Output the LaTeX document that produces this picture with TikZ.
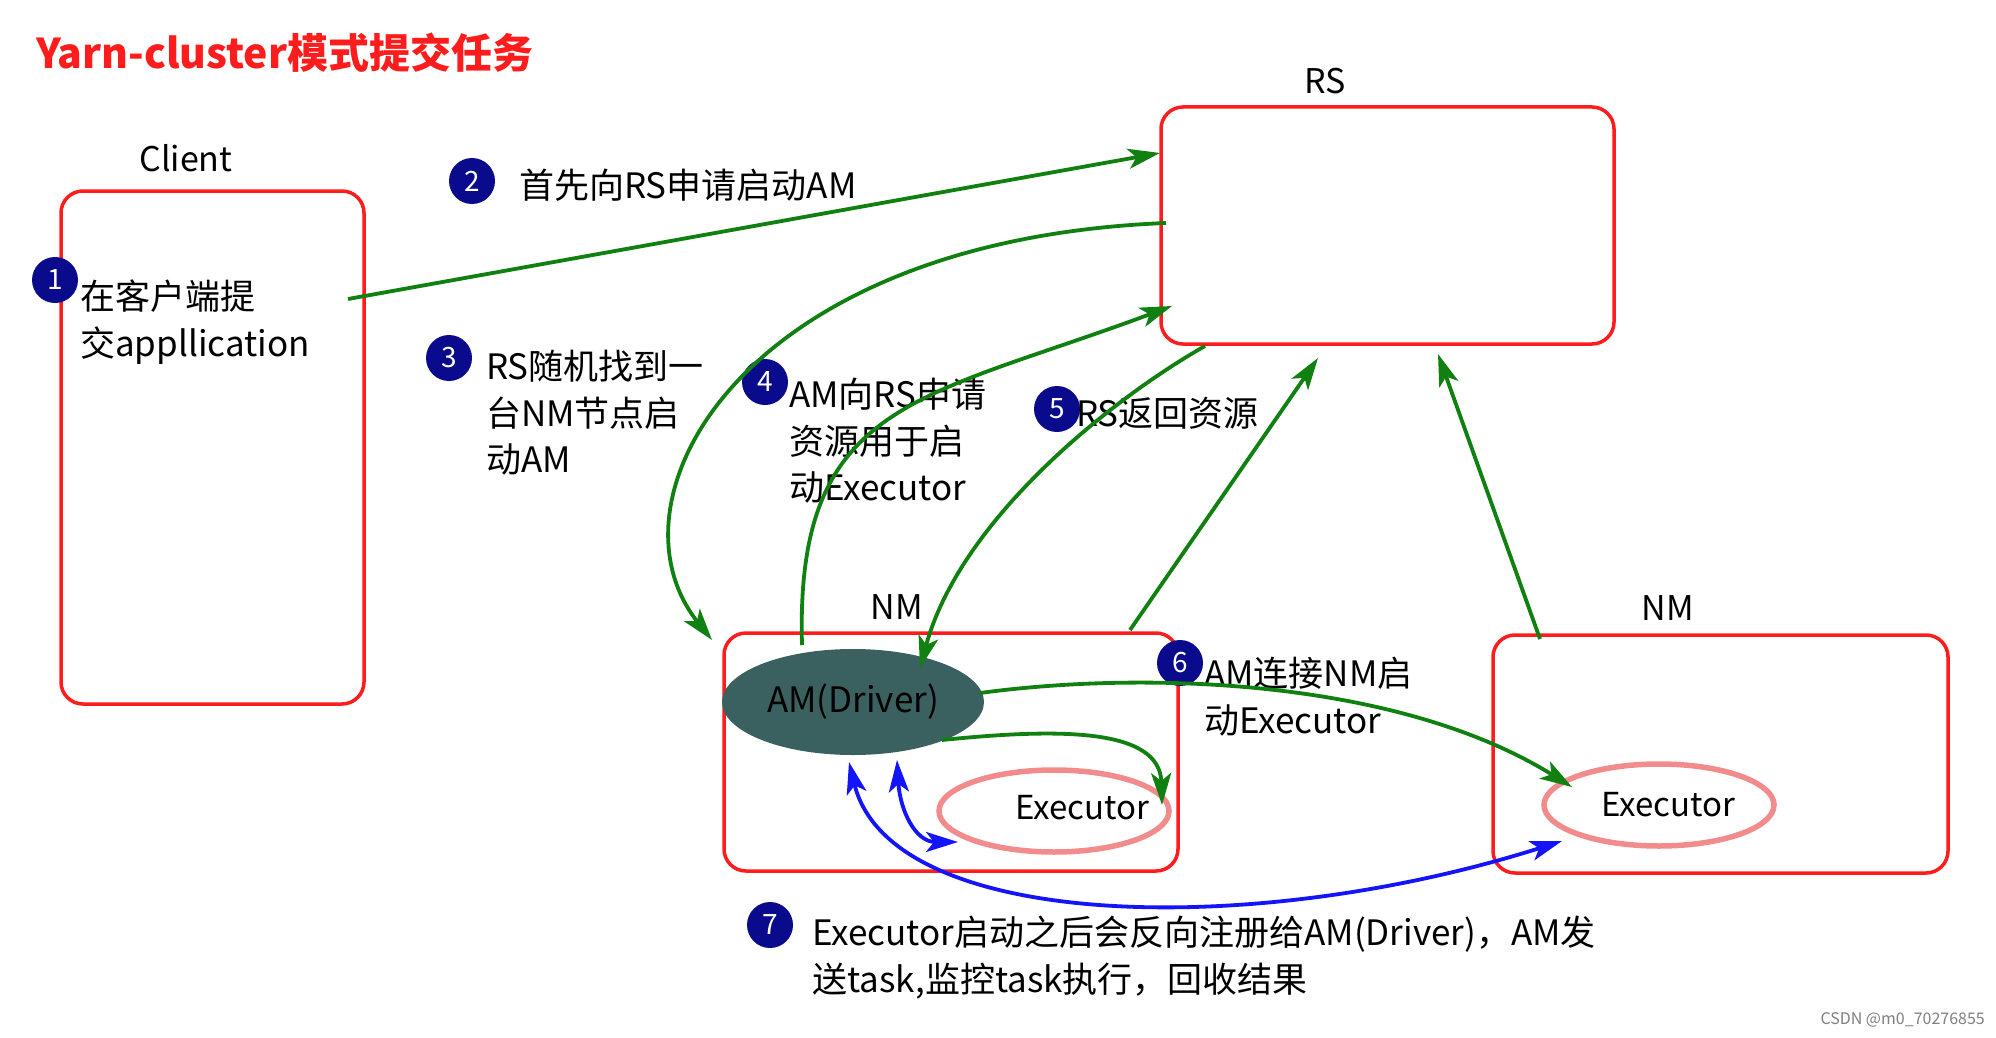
\documentclass[tikz,border=0pt]{standalone}
\usepackage{fontspec}
\setmainfont{Noto Sans CJK SC}
\usetikzlibrary{arrows.meta,shapes.geometric}
\definecolor{boxred}{RGB}{255,28,28}
\definecolor{arrgreen}{RGB}{16,128,16}
\definecolor{arrblue}{RGB}{20,20,250}
\definecolor{execpink}{RGB}{242,140,140}
\definecolor{amteal}{RGB}{58,96,96}
\definecolor{numnavy}{RGB}{10,10,140}
\tikzset{
  sysbox/.style={draw=boxred, line width=3.5pt, rounded corners=22pt, rectangle},
  syslabel/.style={font=\fontsize{34}{40}\selectfont, text=black},
  stepnum/.style={circle, fill=numnavy, text=white, minimum size=46pt, inner sep=0pt, font=\fontsize{28}{30}\selectfont},
  steptext/.style={anchor=west, align=left, font=\fontsize{35}{46.5}\selectfont, inner sep=0pt, text=black},
  garrow/.style={draw=arrgreen, line width=3.8pt, -{Stealth[length=32pt,width=20pt,inset=8pt]}},
  barrow/.style={draw=arrblue, line width=3.8pt, {Stealth[length=32pt,width=20pt,inset=8pt]}-{Stealth[length=32pt,width=20pt,inset=8pt]}},
  execell/.style={ellipse, draw=execpink, line width=5.5pt, minimum width=230pt, minimum height=82pt, inner sep=0pt},
}
\begin{document}
\begin{tikzpicture}[x=1pt,y=-1pt]
\useasboundingbox[fill=white] (0,0) rectangle (1996,1038);

% title
\node[anchor=west, text=boxred, font=\fontsize{41}{46}\selectfont\bfseries, inner sep=0pt] (title) at (36,53) {Yarn-cluster模式提交任务};

% boxes
\node[sysbox, minimum width=303pt, minimum height=513pt] (client) at (212.5,447.5) {};
\node[sysbox, minimum width=453pt, minimum height=237pt] (rs) at (1387.5,225.5) {};
\node[sysbox, minimum width=454pt, minimum height=238pt] (nm1) at (951,752) {};
\node[sysbox, minimum width=455pt, minimum height=238pt] (nm2) at (1720.5,754) {};

% labels
\node[syslabel] (clientlbl) at (186,158) {Client};
\node[syslabel] (rslbl) at (1325,81) {RS};
\node[syslabel] (nm1lbl) at (897,607) {NM};
\node[syslabel] (nm2lbl) at (1668,608) {NM};

% AM and executors
\node[ellipse, fill=amteal, minimum width=262pt, minimum height=106pt, inner sep=0pt, font=\fontsize{35}{40}\selectfont, text=black] (am) at (853,702) {AM(Driver)};
\node[execell] (exec1) at (1054,811) {};
\node[syslabel, font=\fontsize{33}{40}\selectfont] (exec1txt) at (1082,808) {Executor};
\node[execell] (exec2) at (1659,805) {};
\node[syslabel, font=\fontsize{33}{40}\selectfont] (exec2txt) at (1668,805) {Executor};

% step numbers
\node[stepnum] (n1) at (55,280) {1};
\node[stepnum] (n2) at (472,181) {2};
\node[stepnum] (n3) at (449,358) {3};
\node[stepnum] (n4) at (765,382) {4};
\node[stepnum] (n5) at (1057,409) {5};
\node[stepnum] (n6) at (1180,663) {6};
\node[stepnum] (n7) at (770,925) {7};

% step texts
\node[steptext, anchor=north west] (t1) at (80,280) {在客户端提\\交appllication};
\node[steptext] (t2) at (519,185) {首先向RS申请启动AM};
\node[steptext, anchor=north west] (t3) at (486,350) {RS随机找到一\\台NM节点启\\动AM};
\node[steptext, anchor=north west] (t4) at (789,378) {AM向RS申请\\资源用于启\\动Executor};
\node[steptext] (t5) at (1076,413) {RS返回资源};
\node[steptext, anchor=north west] (t6) at (1204,657) {AM连接NM启\\动Executor};
\node[steptext, anchor=north west] (t7) at (812,916) {Executor启动之后会反向注册给AM(Driver)，AM发\\送task,监控task执行，回收结果};

% watermark
\node[anchor=east, text=gray, font=\fontsize{16}{18}\selectfont, inner sep=0pt] (wm) at (1985,1020) {CSDN @m0\_70276855};

% connector end points
\coordinate (a2s) at (348,299);
\coordinate (a2e) at (1160,153);
\coordinate (a3s) at (1166,223);
\coordinate (a3e) at (712,640);
\coordinate (a4s) at (802,645);
\coordinate (a4e) at (1172,306);
\coordinate (a5s) at (1205,346);
\coordinate (a5e) at (920,668);
\coordinate (a6s) at (1130,630);
\coordinate (a6e) at (1318,358);
\coordinate (a7s) at (1540,639);
\coordinate (a7e) at (1438,354);
\coordinate (a8s) at (980,693);
\coordinate (a8e) at (1572,787);
\coordinate (a9s) at (942,740);
\coordinate (a9e) at (1162,805);
\coordinate (b1s) at (897,760);
\coordinate (b1e) at (958,842);
\coordinate (b2s) at (849,762);
\coordinate (b2e) at (1562,841);

% green connectors
\draw[garrow] (a2s) -- (a2e);
\draw[garrow] (a3s) .. controls (740,240) and (600,500) .. (a3e);
\draw[garrow] (a4s) .. controls (795,400) and (920,400) .. (a4e);
\draw[garrow] (a5s) .. controls (1110,400) and (960,520) .. (a5e);
\draw[garrow] (a6s) -- (a6e);
\draw[garrow] (a7s) -- (a7e);
\draw[garrow] (a8s) .. controls (1150,670) and (1400,680) .. (a8e);
\draw[garrow] (a9s) .. controls (1060,728) and (1160,728) .. (a9e);

% blue connectors
\draw[barrow] (b1s) .. controls (900,810) and (915,842) .. (b1e);
\draw[barrow] (b2s) .. controls (890,930) and (1250,940) .. (b2e);
\end{tikzpicture}
\end{document}
